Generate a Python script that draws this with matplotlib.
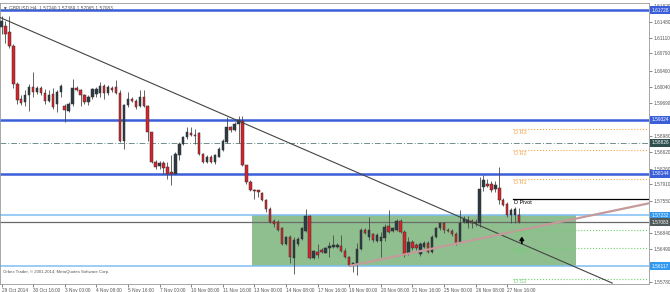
# GBPUSD H4 - velas con soportes/resistencias y pivotes diarios (estilo MT4)
import matplotlib.pyplot as plt
import matplotlib.transforms as mtransforms

# ============================
# Datos OHLC (una vela por barra H4)
# ============================
opens = [1.6135, 1.6138, 1.6124, 1.6095, 1.6011, 1.5978, 1.5971, 1.5988, 1.6004, 1.5993,
         1.6002, 1.5991, 1.5975, 1.5989, 1.5968, 1.5993, 1.5962, 1.5953, 1.5968, 1.6002,
         1.5998, 1.5986, 1.5971, 1.5982, 1.5989, 1.5991, 1.6007, 1.5991, 1.6002, 1.6005,
         1.5991, 1.5887, 1.5966, 1.5978, 1.5975, 1.5962, 1.5982, 1.5964, 1.5905, 1.5840,
         1.5831, 1.5838, 1.5829, 1.5818, 1.5815, 1.5856, 1.5880, 1.5895, 1.5903, 1.5900,
         1.5903, 1.5858, 1.5840, 1.5852, 1.5840, 1.5852, 1.5866, 1.5884, 1.5916, 1.5911,
         1.5924, 1.5930, 1.5833, 1.5796, 1.5780, 1.5778, 1.5772, 1.5758, 1.5738, 1.5711,
         1.5709, 1.5695, 1.5660, 1.5676, 1.5631, 1.5660, 1.5671, 1.5689, 1.5721, 1.5629,
         1.5644, 1.5647, 1.5641, 1.5651, 1.5653, 1.5654, 1.5656, 1.5646, 1.5633, 1.5615,
         1.5615, 1.5649, 1.5691, 1.5676, 1.5682, 1.5668, 1.5668, 1.5673, 1.5700, 1.5689,
         1.5691, 1.5711, 1.5687, 1.5640, 1.5665, 1.5658, 1.5639, 1.5654, 1.5662, 1.5644,
         1.5676, 1.5695, 1.5706, 1.5692, 1.5689, 1.5682, 1.5665, 1.5709, 1.5707, 1.5711,
         1.5706, 1.5707, 1.5785, 1.5793, 1.5793, 1.5782, 1.5784, 1.5758, 1.5749, 1.5724,
         1.5724, 1.57240]
highs = [1.6160, 1.6149, 1.6160, 1.6098, 1.6015, 1.5986, 1.5997, 1.6011, 1.6037, 1.6007,
         1.6007, 1.6000, 1.5998, 1.6002, 1.5998, 1.6011, 1.5968, 1.5971, 1.6022, 1.6007,
         1.6000, 1.5989, 1.5986, 1.6002, 1.6004, 1.6015, 1.6011, 1.6009, 1.6007, 1.6020,
         1.5997, 1.5968, 1.5993, 1.5982, 1.5978, 1.5998, 1.5997, 1.5966, 1.5907, 1.5844,
         1.5842, 1.5842, 1.5840, 1.5855, 1.5862, 1.5884, 1.5898, 1.5916, 1.5916, 1.5913,
         1.5905, 1.5860, 1.5855, 1.5855, 1.5858, 1.5873, 1.5891, 1.5938, 1.5920, 1.5927,
         1.5942, 1.5940, 1.5834, 1.5800, 1.5782, 1.5780, 1.5775, 1.5759, 1.5742, 1.5716,
         1.5713, 1.5698, 1.5678, 1.5680, 1.5676, 1.5676, 1.5698, 1.5738, 1.5724, 1.5647,
         1.5660, 1.5652, 1.5654, 1.5665, 1.5680, 1.5663, 1.5680, 1.5651, 1.5634, 1.5621,
         1.5662, 1.5695, 1.5695, 1.5720, 1.5685, 1.5684, 1.5687, 1.5705, 1.5735, 1.5697,
         1.5715, 1.5715, 1.5691, 1.5676, 1.5669, 1.5663, 1.5665, 1.5667, 1.5667, 1.5680,
         1.5698, 1.5708, 1.5708, 1.5695, 1.5693, 1.5687, 1.5735, 1.5721, 1.5721, 1.5715,
         1.5715, 1.5807, 1.5811, 1.5804, 1.5798, 1.5799, 1.5829, 1.5761, 1.5752, 1.5739,
         1.5741, 1.57389]
lows = [1.6120, 1.6102, 1.6091, 1.6002, 1.5968, 1.5966, 1.5964, 1.5953, 1.5982, 1.5989,
        1.5986, 1.5968, 1.5971, 1.5957, 1.5949, 1.5982, 1.5927, 1.5949, 1.5964, 1.5995,
        1.5964, 1.5968, 1.5966, 1.5978, 1.5982, 1.5982, 1.5978, 1.5988, 1.5993, 1.5989,
        1.5884, 1.5869, 1.5960, 1.5971, 1.5957, 1.5960, 1.5960, 1.5887, 1.5837, 1.5826,
        1.5826, 1.5815, 1.5804, 1.5789, 1.5813, 1.5844, 1.5877, 1.5891, 1.5898, 1.5880,
        1.5855, 1.5838, 1.5838, 1.5837, 1.5835, 1.5851, 1.5864, 1.5882, 1.5905, 1.5909,
        1.5882, 1.5831, 1.5793, 1.5777, 1.5760, 1.5764, 1.5755, 1.5731, 1.5707, 1.5698,
        1.5689, 1.5658, 1.5658, 1.5618, 1.5596, 1.5657, 1.5669, 1.5687, 1.5627, 1.5627,
        1.5629, 1.5641, 1.5640, 1.5633, 1.5651, 1.5652, 1.5644, 1.5629, 1.5612, 1.5600,
        1.5593, 1.5647, 1.5682, 1.5669, 1.5665, 1.5665, 1.5633, 1.5667, 1.5684, 1.5686,
        1.5689, 1.5684, 1.5632, 1.5636, 1.5647, 1.5647, 1.5634, 1.5652, 1.5641, 1.5641,
        1.5673, 1.5691, 1.5684, 1.5686, 1.5678, 1.5658, 1.5663, 1.5706, 1.5695, 1.5695,
        1.5700, 1.5698, 1.5776, 1.5785, 1.5774, 1.5775, 1.5749, 1.5743, 1.5720, 1.5706,
        1.5706, 1.57065]
closes = [1.6149, 1.6120, 1.6095, 1.6011, 1.5976, 1.5970, 1.5986, 1.6005, 1.5993, 1.6002,
          1.5991, 1.5975, 1.5988, 1.5960, 1.5993, 1.6007, 1.5954, 1.5968, 1.6002, 1.5998,
          1.5986, 1.5971, 1.5982, 1.6000, 1.6000, 1.6007, 1.5991, 1.6005, 1.5997, 1.5991,
          1.5887, 1.5966, 1.5978, 1.5975, 1.5960, 1.5982, 1.5962, 1.5905, 1.5840, 1.5829,
          1.5838, 1.5828, 1.5815, 1.5815, 1.5858, 1.5880, 1.5895, 1.5905, 1.5900, 1.5897,
          1.5858, 1.5840, 1.5852, 1.5840, 1.5855, 1.5869, 1.5887, 1.5918, 1.5911, 1.5924,
          1.5933, 1.5833, 1.5796, 1.5778, 1.5777, 1.5775, 1.5756, 1.5738, 1.5709, 1.5704,
          1.5691, 1.5660, 1.5676, 1.5633, 1.5669, 1.5671, 1.5695, 1.5721, 1.5629, 1.5646,
          1.5636, 1.5644, 1.5651, 1.5656, 1.5658, 1.5658, 1.5646, 1.5633, 1.5615, 1.5618,
          1.5649, 1.5691, 1.5684, 1.5691, 1.5669, 1.5680, 1.5675, 1.5698, 1.5687, 1.5695,
          1.5711, 1.5687, 1.5636, 1.5665, 1.5651, 1.5651, 1.5660, 1.5662, 1.5644, 1.5676,
          1.5695, 1.5706, 1.5692, 1.5689, 1.5682, 1.5662, 1.5707, 1.5716, 1.5713, 1.5706,
          1.5709, 1.5782, 1.5800, 1.5787, 1.5778, 1.5789, 1.5756, 1.5746, 1.5724, 1.5736,
          1.5738, 1.57083]

# etiquetas del eje de tiempo (cada 8 barras)
date_labels = ["29 Oct 2014", "30 Oct 16:00", "3 Nov 00:00", "4 Nov 08:00", "5 Nov 16:00",
               "7 Nov 00:00", "10 Nov 08:00", "11 Nov 16:00", "13 Nov 00:00", "14 Nov 08:00",
               "17 Nov 16:00", "19 Nov 00:00", "20 Nov 08:00", "21 Nov 16:00", "25 Nov 00:00",
               "26 Nov 08:00", "27 Nov 16:00"]
date_bars = list(range(0, 8 * len(date_labels), 8))

price_ticks = [1.61820, 1.61480, 1.61110, 1.60790, 1.60400, 1.60040, 1.59690, 1.58980,
               1.58620, 1.58260, 1.57910, 1.57550, 1.56840, 1.56490, 1.55780]

# niveles horizontales
resistance_lines = [1.61728, 1.59324, 1.58144]
dashdot_level = 1.58826
box_top = 1.57232
box_bottom = 1.56117
box_bars = [63.4, 145.4]
bid = 1.57083

# líneas de tendencia (anclas en barra / precio)
trend_down_bars = [-0.4, 154.6]
trend_down_prices = [1.6157, 1.5575]
trend_up_bars = [88.3, 164.0]
trend_up_prices = [1.5613, 1.5750]

# pivotes diarios
pivot_start = 129.5
pivot_names = ["D R3", "D R2", "D R1", "D Pivot", "D S1", "D S2", "D S3"]
pivot_levels = [1.5913, 1.5867, 1.5802, 1.5760, 1.5692, 1.5651, 1.5585]

arrow_bar = 131.7
arrow_prices = [1.5662, 1.5677]

title_text = "GBPUSD,H4  1.57240 1.57389 1.57065 1.57083"
copyright_text = "Orbex Trader, \u00a9 2001-2014, MetaQuotes Software Corp."


def main():
    plt.rcParams['font.family'] = ['Liberation Sans', 'DejaVu Sans']
    fs = 3.4

    fig = plt.figure(figsize=(6.7, 2.92), dpi=100)
    ax = fig.add_axes([0.0, 0.0291, 0.9687, 0.9606])
    x_max = 163.9
    ax.set_xlim(-0.38, x_max)
    ax.set_ylim(1.55741, 1.61886)

    # caja verde (rango)
    ax.fill_between(box_bars, box_bottom, box_top, color="#8fbf8f", lw=0, zorder=1)

    # líneas horizontales
    for lvl in resistance_lines:
        ax.axhline(lvl, color="#3a5fd9", lw=1.8, zorder=2)
    ax.axhline(box_top, color="#7fbff5", lw=1.1, zorder=2)
    ax.axhline(box_bottom, color="#7fbff5", lw=1.1, zorder=2)
    ax.axhline(bid, color="#6a6a6a", lw=0.9, zorder=2)
    ax.axhline(dashdot_level, color="#6f8f8f", lw=0.7,
               linestyle=(0, (6, 2, 1, 2)), zorder=2)

    # pivotes
    for name, lvl in zip(pivot_names, pivot_levels):
        if name == "D Pivot":
            col, ls, lw = "black", "-", 0.9
        elif name.startswith("D R"):
            col, ls, lw = "#f4a446", ":", 0.8
        else:
            col, ls, lw = "#6fd06f", ":", 0.8
        ax.plot([pivot_start, x_max], [lvl, lvl], color=col, ls=ls, lw=lw, zorder=2)
        ax.text(pivot_start + 0.3, lvl - 0.0002, name, color=col, fontsize=fs + 0.6,
                ha="left", va="top", zorder=5)

    # velas
    x = list(range(len(opens)))
    bull = [c >= o for o, c in zip(opens, closes)]
    ax.vlines(x, lows, highs, color="#4a4a4a", lw=0.6, zorder=3)
    bottoms = [min(o, c) for o, c in zip(opens, closes)]
    heights = [abs(c - o) for o, c in zip(opens, closes)]
    colors = ["#2c3a44" if b else "#d8232a" for b in bull]
    ax.bar(x, heights, bottom=bottoms, width=0.62, color=colors,
           edgecolor="#333333", linewidth=0.35, zorder=3)

    # líneas de tendencia
    ax.plot(trend_down_bars, trend_down_prices, color="#444444", lw=0.8, zorder=4)
    ax.plot(trend_up_bars, trend_up_prices, color="#c49a9a", lw=1.6, zorder=4)

    # flecha de compra
    ax.annotate("", xy=(arrow_bar, arrow_prices[1]), xytext=(arrow_bar, arrow_prices[0]),
                arrowprops=dict(arrowstyle="-|>,head_width=0.12,head_length=0.18",
                                color="black", lw=1.2, shrinkA=0, shrinkB=0), zorder=5)

    # ejes estilo MT4
    ax.yaxis.tick_right()
    ax.set_yticks(price_ticks)
    ax.set_yticklabels([f"{p:.5f}" for p in price_ticks])
    ax.set_xticks(date_bars)
    ax.set_xticklabels(date_labels)
    for lbl in ax.get_xticklabels():
        lbl.set_ha("left")
    ax.tick_params(axis="both", labelsize=fs, colors="#555555", length=2,
                   width=0.5, pad=1)
    for sp in ax.spines.values():
        sp.set_color("#999999")
        sp.set_linewidth(0.6)

    # etiquetas de precio resaltadas a la derecha
    trans = mtransforms.blended_transform_factory(ax.transAxes, ax.transData)
    boxed = [(1.61728, "#3a5fd9"), (1.59324, "#3a5fd9"), (1.58826, "#2f4f4f"),
             (1.58144, "#3a5fd9"), (1.57232, "#3399f0"), (1.57083, "#505a5a"),
             (1.56117, "#3399f0")]
    for lvl, col in boxed:
        ax.text(1.004, lvl, f"{lvl:.5f}", transform=trans, fontsize=fs, color="white",
                ha="left", va="center", clip_on=False, zorder=6,
                bbox=dict(boxstyle="square,pad=0.3", fc=col, ec="none"))

    # textos
    ax.text(0.004, 0.993, "\u25bc " + title_text, transform=ax.transAxes,
            fontsize=fs, color="#555555", ha="left", va="top", zorder=6)
    ax.text(0.004, 0.035, copyright_text, transform=ax.transAxes,
            fontsize=fs - 0.3, color="#555555", ha="left", va="bottom", zorder=6)

    fig.savefig("out.png", dpi=100)
    plt.close(fig)


if __name__ == "__main__":
    main()
